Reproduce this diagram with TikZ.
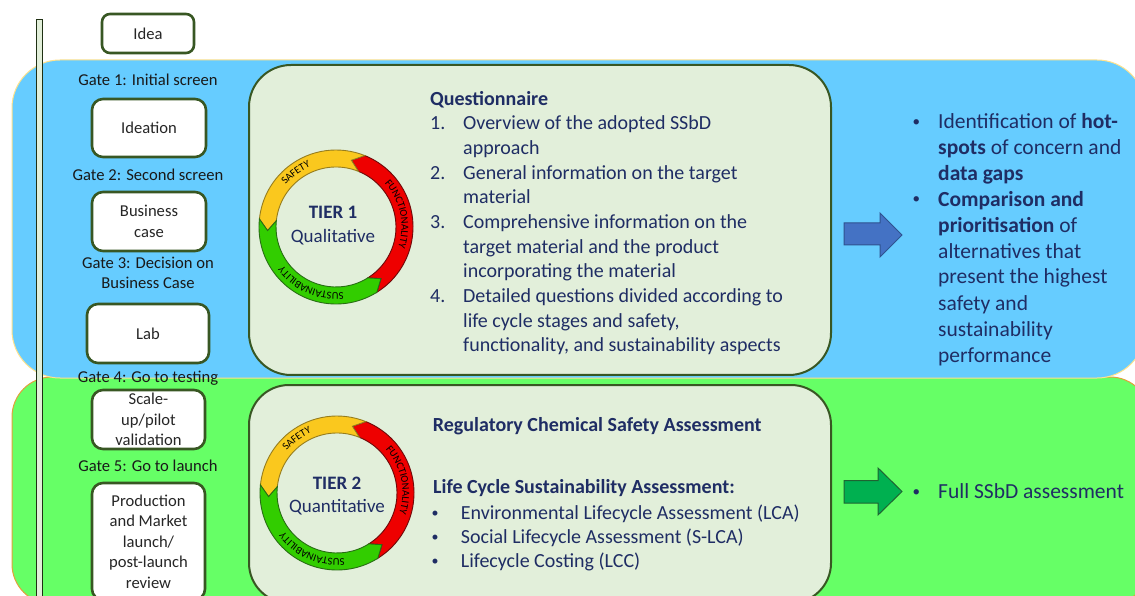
\documentclass[tikz,border=0pt]{standalone}
\usepackage{fontspec}
\setmainfont{Carlito}
\usetikzlibrary{calc,decorations.text}
\definecolor{bluebg}{RGB}{102,204,255}
\definecolor{greenbg}{RGB}{102,255,102}
\definecolor{panel}{RGB}{226,239,218}
\definecolor{dkgreen}{RGB}{56,87,35}
\definecolor{navy}{RGB}{31,45,100}
\definecolor{bluebord}{RGB}{255,226,140}
\definecolor{greenbord}{RGB}{226,160,60}
\definecolor{arrblue}{RGB}{68,114,196}
\definecolor{arrbluebd}{RGB}{47,82,143}
\definecolor{arrgreen}{RGB}{0,176,80}
\definecolor{arrgreenbd}{RGB}{30,100,50}
\definecolor{segY}{RGB}{250,200,30}
\definecolor{segYd}{RGB}{150,125,30}
\definecolor{segR}{RGB}{238,0,0}
\definecolor{segRd}{RGB}{110,10,10}
\definecolor{segG}{RGB}{50,205,0}
\definecolor{segGd}{RGB}{40,110,20}
\newcommand\ringfont{\fontsize{10.5}{11}\selectfont}
\newcommand\bul{\raisebox{2pt}{\scalebox{0.7}{\textbullet}}}
\newcommand\ringseg[5]{\filldraw[fill=#4,draw=#5,line width=0.9pt,line join=miter]
  ($(#1)+(#2:77)$) arc[start angle=#2,end angle=#3,radius=77]
  -- ($(#1)+({#3+9}:68.5)$) -- ($(#1)+(#3:60)$)
  arc[start angle=#3,end angle=#2,radius=60]
  -- ($(#1)+({#2+9}:68.5)$) -- cycle;}
\newcommand\ringlabel[4]{\path[decorate,decoration={text along path,text align=center,text={|\ringfont|#4}}]
  ($(#1)+(#2:65.5)$) arc[start angle=#2,end angle=#3,radius=65.5];}
\newcommand\cycleicon[1]{%
  \ringseg{#1}{-58}{68}{segR}{segRd}
  \ringseg{#1}{68}{174}{segY}{segYd}
  \ringseg{#1}{174}{302}{segG}{segGd}
  \ringlabel{#1}{151.5}{101.5}{SAFETY}
  \ringlabel{#1}{52}{-28}{FUNCTIONALITY}
  \ringlabel{#1}{-73.5}{-153.5}{SUSTAINABILITY}}
\tikzset{
  stage/.style={draw=dkgreen, line width=2.6pt, fill=white, rounded corners=11pt,
    align=center, font=\fontsize{16.6}{20.4}\selectfont, inner sep=0pt, text=black!85},
  gate/.style={anchor=base, align=center, font=\fontsize{16.6}{20.4}\selectfont, inner sep=0pt, text=black!90},
  panelbox/.style={draw=dkgreen, line width=2pt, fill=panel},
  navytext/.style={anchor=base west, align=left, inner sep=0pt, text=navy},
  tiertext/.style={anchor=base, inner sep=0pt, text=navy, font=\fontsize{19}{22}\selectfont},
  blockarrow/.style={line width=1pt, line join=miter},
}
\begin{document}
\begin{tikzpicture}[x=1pt,y=1pt]
\useasboundingbox (0,0) rectangle (1135,595);
\clip (0,0) rectangle (1135,595);
\fill[white] (0,0) rectangle (1135,595);
% background bands
\draw[fill=greenbg, draw=greenbord, line width=1pt, rounded corners=40pt] (12,218) rectangle (1150,-9);
\draw[fill=bluebg, draw=bluebord, line width=1pt, rounded corners=48pt] (12,535) rectangle (1145,217);
% vertical timeline bar
\draw[fill=panel, draw=black!45!dkgreen, line width=0.8pt] (36,576) rectangle (42,-5);
% tier panels
\draw[panelbox, rounded corners=42pt] (249,530) rectangle (831,220);
\draw[panelbox, rounded corners=40pt] (249,210) rectangle (831,-8);
% stage boxes
\node[stage, minimum width=92pt, minimum height=39pt, rounded corners=8pt] (idea) at (148,561.5) {Idea};
\node[stage, minimum width=114pt, minimum height=58pt] (ideation) at (149,467) {Ideation};
\node[stage, minimum width=114pt, minimum height=59pt] (business) at (149,373.5) {Business\\case};
\node[stage, minimum width=122pt, minimum height=59pt] (lab) at (148,261.5) {Lab};
\node[stage, minimum width=113pt, minimum height=59pt] (scale) at (148.5,175.5) {Scale-\\up/pilot\\validation};
\node[stage, minimum width=113pt, minimum height=117pt] (prod) at (148.5,53.5) {Production\\and Market\\launch/\\post-launch\\review};
% gates (multi-line nodes are anchored at the baseline of their last line)
\node[gate] (g1) at (148,509) {Gate 1: Initial screen};
\node[gate] (g2) at (148,414) {Gate 2: Second screen};
\node[gate] (g3) at (148,306.3) {Gate 3: Decision on\\Business Case};
\node[gate] (g4) at (148,212.5) {Gate 4: Go to testing};
\node[gate] (g5) at (148,124) {Gate 5: Go to launch};
% cycle icons
\coordinate (c1) at (336,368);
\coordinate (c2) at (337,102);
\cycleicon{c1}
\cycleicon{c2}
\node[tiertext, font=\fontsize{19}{22}\selectfont\bfseries] (t1) at (333,376.5) {TIER 1};
\node[tiertext] (t1b) at (333,352.3) {Qualitative};
\node[tiertext, font=\fontsize{19}{22}\selectfont\bfseries] (t2) at (337,105.7) {TIER 2};
\node[tiertext] (t2b) at (337,82.3) {Quantitative};
% tier 1 text
\node[navytext, font=\fontsize{20}{24.7}\selectfont] (quest) at (430,243) {%
\textbf{Questionnaire}\\
\makebox[33pt][l]{1.}Overview of the adopted SSbD\\
\hspace*{33pt}approach\\
\makebox[33pt][l]{2.}General information on the target\\
\hspace*{33pt}material\\
\makebox[33pt][l]{3.}Comprehensive information on the\\
\hspace*{33pt}target material and the product\\
\hspace*{33pt}incorporating the material\\
\makebox[33pt][l]{4.}Detailed questions divided according to\\
\hspace*{33pt}life cycle stages and safety,\\
\hspace*{33pt}functionality, and sustainability aspects};
% tier 2 text
\node[navytext, font=\fontsize{20}{24.7}\selectfont\bfseries] (reg) at (432.7,163.3) {Regulatory Chemical Safety Assessment};
\node[navytext, font=\fontsize{20}{24.7}\selectfont\bfseries] (lcsa) at (433,101.7) {Life Cycle Sustainability Assessment:};
\node[navytext, font=\fontsize{20}{23.9}\selectfont] (lcsalist) at (431.5,27.3) {%
\makebox[29.2pt][l]{\bul}Environmental Lifecycle Assessment (LCA)\\
\makebox[29.2pt][l]{\bul}Social Lifecycle Assessment (S-LCA)\\
\makebox[29.2pt][l]{\bul}Lifecycle Costing (LCC)};
% arrows
\draw[blockarrow, fill=arrblue, draw=arrbluebd] (844,372) -- (880,372) -- (880,382) -- (902,360) -- (880,338) -- (880,350) -- (844,350) -- cycle;
\draw[blockarrow, fill=arrgreen, draw=arrgreenbd] (844,114.3) -- (878,114.3) -- (878,127) -- (902,103.5) -- (878,80) -- (878,92) -- (844,92) -- cycle;
% outcomes
\node[navytext, font=\fontsize{21.5}{26}\selectfont] (out1) at (912.5,233) {%
\makebox[25.5pt][l]{\bul}Identification of \textbf{hot-}\\
\hspace*{25.5pt}\textbf{spots} of concern and\\
\hspace*{25.5pt}\textbf{data gaps}\\
\makebox[25.5pt][l]{\bul}\textbf{Comparison and}\\
\hspace*{25.5pt}\textbf{prioritisation} of\\
\hspace*{25.5pt}alternatives that\\
\hspace*{25.5pt}present the highest\\
\hspace*{25.5pt}safety and\\
\hspace*{25.5pt}sustainability\\
\hspace*{25.5pt}performance};
\node[navytext, font=\fontsize{21.5}{26}\selectfont] (out2) at (912.5,97) {\makebox[25.5pt][l]{\bul}Full SSbD assessment};
\end{tikzpicture}
\end{document}
